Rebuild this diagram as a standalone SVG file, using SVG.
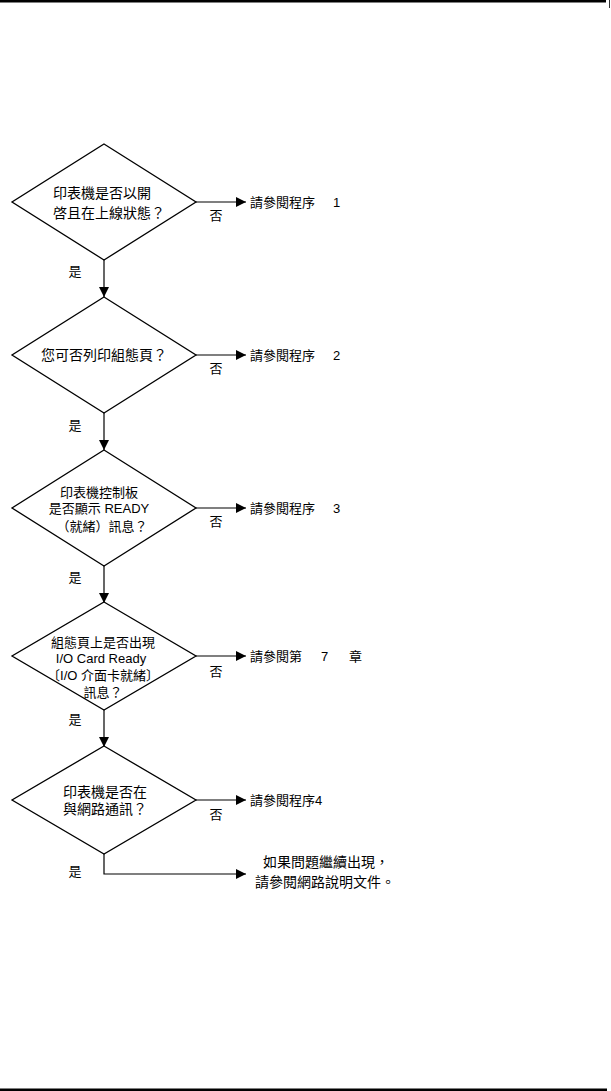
<svg xmlns="http://www.w3.org/2000/svg" width="611" height="1091" viewBox="0 0 611 1091">
<style>
  .d { fill: #fff; stroke: #000; stroke-width: 1.3; }
  .c { fill: none; stroke: #000; stroke-width: 1.2; }
  text { font-family: "Liberation Sans", "Noto Sans CJK TC", sans-serif; fill: #000; }
  .t14 { font-size: 14px; }
  .t13 { font-size: 13px; }
  .m { text-anchor: middle; }
</style>
<defs>
  <marker id="ah" viewBox="0 0 10 10" refX="10" refY="5" markerWidth="10" markerHeight="10" markerUnits="userSpaceOnUse" orient="auto">
    <path d="M0,0 L10,5 L0,10 Z" fill="#000"/>
  </marker>
</defs>
<rect x="0" y="0" width="606" height="2.5" fill="#000"/>
<rect x="0" y="1088.5" width="607" height="2.5" fill="#000"/>
<line x1="609.5" y1="0" x2="609.5" y2="8" stroke="#000" stroke-width="0.8"/>

<g id="connectors">
  <line class="c" x1="104" y1="260" x2="104" y2="297" marker-end="url(#ah)"/>
  <line class="c" x1="104" y1="413" x2="104" y2="450" marker-end="url(#ah)"/>
  <line class="c" x1="104" y1="566" x2="104" y2="603" marker-end="url(#ah)"/>
  <line class="c" x1="104" y1="710" x2="104" y2="747" marker-end="url(#ah)"/>
  <polyline class="c" points="104,854 104,874 246,874" marker-end="url(#ah)"/>
  <line class="c" x1="196" y1="202" x2="246" y2="202" marker-end="url(#ah)"/>
  <line class="c" x1="196" y1="355" x2="246" y2="355" marker-end="url(#ah)"/>
  <line class="c" x1="196" y1="508" x2="246" y2="508" marker-end="url(#ah)"/>
  <line class="c" x1="196" y1="656" x2="246" y2="656" marker-end="url(#ah)"/>
  <line class="c" x1="196" y1="800" x2="246" y2="800" marker-end="url(#ah)"/>
  <text class="t13 m" x="75" y="276">是</text>
  <text class="t13 m" x="75" y="430">是</text>
  <text class="t13 m" x="75" y="582">是</text>
  <text class="t13 m" x="75" y="724">是</text>
  <text class="t13 m" x="75" y="876">是</text>
  <text class="t13 m" x="216" y="220">否</text>
  <text class="t13 m" x="216" y="373">否</text>
  <text class="t13 m" x="216" y="526">否</text>
  <text class="t13 m" x="216" y="676">否</text>
  <text class="t13 m" x="216" y="819">否</text>
</g>

<g id="q1">
  <polygon class="d" points="104,144 196,202 104,260 12,202"/>
  <text class="t14" x="53" y="198">印表機是否以開</text>
  <text class="t14" x="53" y="218">啓且在上線狀態？</text>
</g>
<g id="r1">
  <text class="t13" x="250" y="207">請參閱程序<tspan x="333">1</tspan></text>
</g>

<g id="q2">
  <polygon class="d" points="104,297 196,355 104,413 12,355"/>
  <text class="t14 m" x="104" y="360">您可否列印組態頁？</text>
</g>
<g id="r2">
  <text class="t13" x="250" y="360">請參閱程序<tspan x="333">2</tspan></text>
</g>

<g id="q3">
  <polygon class="d" points="104,450 196,508 104,566 12,508"/>
  <text class="t13 m" x="99" y="497">印表機控制板</text>
  <text class="t13 m" x="99" y="513">是否顯示 READY</text>
  <text class="t13 m" x="102" y="531">（就緒）訊息？</text>
</g>
<g id="r3">
  <text class="t13" x="250" y="513">請參閱程序<tspan x="333">3</tspan></text>
</g>

<g id="q4">
  <polygon class="d" points="104,602 196,656 104,710 12,656"/>
  <text class="t13 m" x="103" y="647">組態頁上是否出現</text>
  <text class="t13 m" x="101" y="663">I/O Card Ready</text>
  <text class="t13 m" x="103" y="680">〔I/O 介面卡就緒〕</text>
  <text class="t13 m" x="103" y="697">訊息？</text>
</g>
<g id="r4">
  <text class="t13" x="250" y="661">請參閱第<tspan x="321">7</tspan><tspan x="349">章</tspan></text>
</g>

<g id="q5">
  <polygon class="d" points="104,746 196,800 104,854 12,800"/>
  <text class="t14" x="63" y="797">印表機是否在</text>
  <text class="t14" x="63" y="814">與網路通訊？</text>
</g>
<g id="r5">
  <text class="t13" x="250" y="805">請參閱程序4</text>
</g>

<g id="r6">
  <text class="t14 m" x="326" y="867">如果問題繼續出現，</text>
  <text class="t14 m" x="325" y="887">請參閱網路說明文件。</text>
</g>
</svg>
